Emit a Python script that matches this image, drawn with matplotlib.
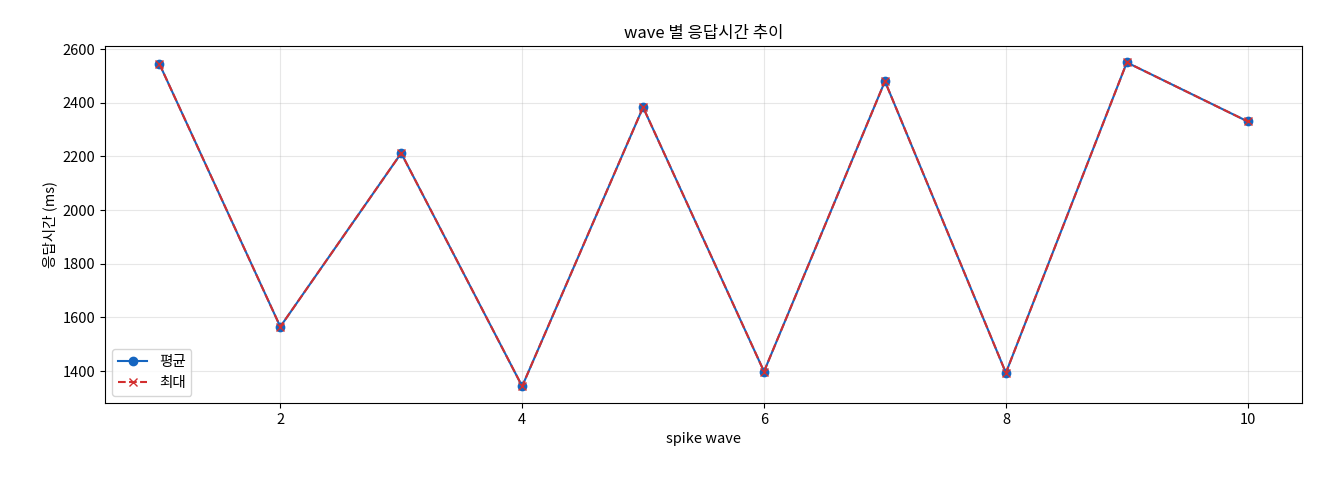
import matplotlib
matplotlib.use("Agg")
import matplotlib.pyplot as plt

plt.rcParams['font.family'] = ['Noto Sans CJK KR', 'DejaVu Sans']
plt.rcParams['font.size'] = 10.5

waves = [1, 2, 3, 4, 5, 6, 7, 8, 9, 10]
avg_ms = [2545, 1565, 2212, 1343, 2383, 1398, 2480, 1393, 2550, 2330]
max_ms = [2545, 1565, 2212, 1343, 2383, 1398, 2480, 1393, 2550, 2330]

fig = plt.figure(figsize=(13.2, 4.8), dpi=100)
ax = fig.add_axes([0.0795, 0.16, 0.907, 0.744])
ax.plot(waves, avg_ms, marker='o', color='#1565C0', label='평균', markersize=6, linewidth=1.5)
ax.plot(waves, max_ms, marker='x', linestyle='--', color='#D32F2F', label='최대', markersize=6, linewidth=1.5)
ax.set_ylim(1280, 2611)
ax.set_title('wave 별 응답시간 추이', fontsize=12)
ax.set_xlabel('spike wave', fontsize=10.5)
ax.set_ylabel('응답시간 (ms)', fontsize=10.5)
ax.grid(True, alpha=0.3)
ax.legend(loc='lower left')
fig.savefig('out.png', dpi=100)
